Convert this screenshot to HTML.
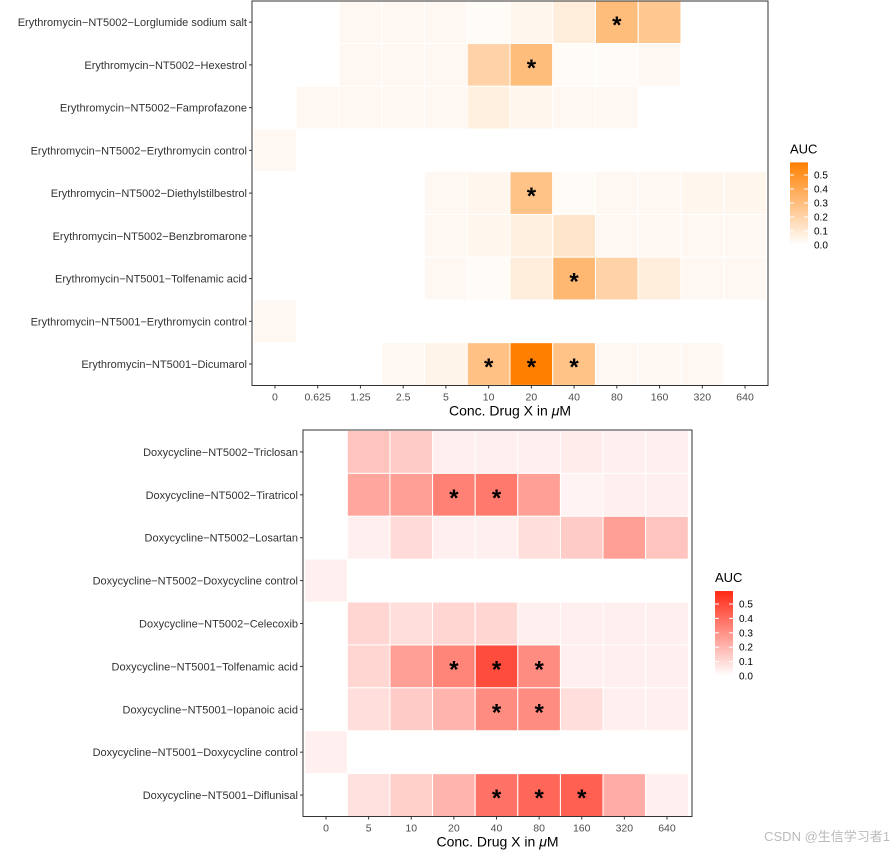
<!DOCTYPE html>
<html><head><meta charset="utf-8"><style>
html,body{margin:0;padding:0;background:#fff;width:896px;height:852px;overflow:hidden}
svg{display:block;font-family:"Liberation Sans","Noto Sans CJK SC",sans-serif}
</style></head><body>
<svg id="chart" width="896" height="852" viewBox="0 0 896 852"></svg>
<script>
const topCats = ["0","0.625","1.25","2.5","5","10","20","40","80","160","320","640"];
const topRows = ["Erythromycin\u2212NT5002\u2212Lorglumide sodium salt","Erythromycin\u2212NT5002\u2212Hexestrol","Erythromycin\u2212NT5002\u2212Famprofazone","Erythromycin\u2212NT5002\u2212Erythromycin control","Erythromycin\u2212NT5002\u2212Diethylstilbestrol","Erythromycin\u2212NT5002\u2212Benzbromarone","Erythromycin\u2212NT5001\u2212Tolfenamic acid","Erythromycin\u2212NT5001\u2212Erythromycin control","Erythromycin\u2212NT5001\u2212Dicumarol"];
const topValues = [
 [null,null,.03,.03,.03,.02,.04,.08,.3,.25,null,null],
 [null,null,.03,.03,.03,.2,.3,.02,.02,.03,null,null],
 [null,.03,.03,.03,.03,.07,.04,.03,.03,null,null,null],
 [.03,null,null,null,null,null,null,null,null,null,null,null],
 [null,null,null,null,.03,.04,.27,.02,.03,.03,.04,.04],
 [null,null,null,null,.03,.04,.07,.12,.03,.03,.03,.03],
 [null,null,null,null,.03,.02,.08,.32,.2,.08,.03,.03],
 [.03,null,null,null,null,null,null,null,null,null,null,null],
 [null,null,null,.03,.05,.28,.58,.27,.03,.03,.03,null]];
const topStars = [[8],[6],[],[],[6],[],[7],[],[5,6,7]];
const botCats = ["0","5","10","20","40","80","160","320","640"];
const botRows = ["Doxycycline\u2212NT5002\u2212Triclosan","Doxycycline\u2212NT5002\u2212Tiratricol","Doxycycline\u2212NT5002\u2212Losartan","Doxycycline\u2212NT5002\u2212Doxycycline control","Doxycycline\u2212NT5002\u2212Celecoxib","Doxycycline\u2212NT5001\u2212Tolfenamic acid","Doxycycline\u2212NT5001\u2212Iopanoic acid","Doxycycline\u2212NT5001\u2212Doxycycline control","Doxycycline\u2212NT5001\u2212Diflunisal"];
const botValues = [
 [null,.16,.14,.04,.04,.04,.05,.04,.04],
 [null,.24,.26,.34,.36,.26,.03,.04,.04],
 [null,.04,.1,.04,.04,.09,.14,.26,.16],
 [.04,null,null,null,null,null,null,null,null],
 [null,.11,.09,.11,.11,.04,.04,.04,.04],
 [null,.11,.26,.33,.48,.31,.04,.04,.04],
 [null,.09,.14,.2,.31,.31,.09,.04,.04],
 [.04,null,null,null,null,null,null,null,null],
 [null,.08,.13,.2,.38,.41,.43,.22,.04]];
const botStars = [[],[3,4],[],[],[],[3,4,5],[4,5],[],[4,5,6]];
const legendTicks = [0,0.1,0.2,0.3,0.4,0.5];

const NS="http://www.w3.org/2000/svg";
const svg=document.getElementById('chart');
function mk(tag,attrs,parent){const e=document.createElementNS(NS,tag);for(const k in attrs)e.setAttribute(k,attrs[k]);(parent||svg).appendChild(e);return e;}
function mix(c,t){return 'rgb('+c.map(v=>Math.round(255+(v-255)*t)).join(',')+')';}

function panel(cfg){
 const g=mk('g',{});
 
 
 const nC=cfg.cats.length,nR=cfg.rows.length;
 const cw=(cfg.x1-cfg.x0)/nC, rh=(cfg.y1-cfg.y0)/nR;
 const xs=i=>cfg.x0+cw*(i+0.5), ys=j=>cfg.y0+rh*(j+0.5);
 const col=v=>mix(cfg.high,Math.min(1,v/cfg.vmax));
 cfg.values.forEach((row,j)=>row.forEach((v,i)=>{
  if(v===null)return;
  const r=mk('rect',{x:xs(i)-cw/2,y:ys(j)-rh/2,width:cw,height:rh,fill:col(v),stroke:'#fff','stroke-width':1},g);
  
  
 }));
 cfg.stars.forEach((arr,j)=>arr.forEach(i=>{
  const t=mk('text',{x:xs(i),y:ys(j)+11,'text-anchor':'middle','font-size':24,'font-weight':'bold',fill:'#000'},g);
  t.textContent='*';
  
  
 }));
 mk('rect',{x:cfg.px0,y:cfg.py0,width:cfg.px1-cfg.px0,height:cfg.py1-cfg.py0,fill:'none',stroke:'#333','stroke-width':1},g);
 cfg.rows.forEach((lab,j)=>{
  mk('line',{x1:cfg.px0-3,x2:cfg.px0,y1:ys(j),y2:ys(j),stroke:'#333'},g);
  const t=mk('text',{x:cfg.px0-5,y:ys(j)+4,'text-anchor':'end','font-size':11,fill:'#333'},g);
  t.textContent=lab;
  
  
 });
 cfg.cats.forEach((lab,i)=>{
  mk('line',{x1:xs(i),x2:xs(i),y1:cfg.py1,y2:cfg.py1+3,stroke:'#333'},g);
  const t=mk('text',{x:xs(i),y:cfg.py1+15,'text-anchor':'middle','font-size':10.5,fill:'#4d4d4d'},g);
  t.textContent=lab;
  
  
 });
 const xt=mk('text',{x:(cfg.px0+cfg.px1)/2,y:cfg.py1+30,'text-anchor':'middle','font-size':14,fill:'#000'},g);
 xt.innerHTML='Conc. Drug X in <tspan font-style="italic">μ</tspan>M';
 
 
 const L=cfg.leg, ppu=L.ppu;
 const lt=mk('text',{x:L.x,y:L.y0-L.top*ppu-9,'font-size':13,fill:'#000'},g);
 lt.textContent='AUC';
 
 
 const gid='grad'+cfg.name;
 const lg=mk('linearGradient',{id:gid,x1:0,y1:1,x2:0,y2:0},mk('defs',{},g));
 mk('stop',{offset:0,'stop-color':'#fff'},lg);
 mk('stop',{offset:1,'stop-color':col(L.top)},lg);
 const bar=mk('rect',{x:L.x,y:L.y0-L.top*ppu,width:18,height:L.top*ppu,fill:'url(#'+gid+')'},g);
 
 
 legendTicks.forEach(v=>{
  const y=L.y0-v*ppu;
  mk('line',{x1:L.x,x2:L.x+4,y1:y,y2:y,stroke:'#fff'},g);
  mk('line',{x1:L.x+14,x2:L.x+18,y1:y,y2:y,stroke:'#fff'},g);
  const t=mk('text',{x:L.x+24,y:y+3.5,'font-size':10,fill:'#000'},g);
  t.textContent=v.toFixed(1);
  
  
 });
}
panel({name:'erythromycin-heatmap',cats:topCats,rows:topRows,values:topValues,stars:topStars,
 x0:253.6,x1:766.4,y0:0.8,y1:385.4,px0:252,px1:768,py0:1,py1:385.5,high:[255,127,0],vmax:0.58,
 leg:{x:790,y0:245,ppu:140,top:0.59}});
panel({name:'doxycycline-heatmap',cats:botCats,rows:botRows,values:botValues,stars:botStars,
 x0:304.7,x1:688.3,y0:430.5,y1:816.5,px0:303,px1:692,py0:430,py1:816.5,high:[255,40,20],vmax:0.58,
 leg:{x:715,y0:676,ppu:144,top:0.59}});
const wm=mk('text',{x:890,y:841,'text-anchor':'end','font-size':13,fill:'#bbb'});
wm.textContent='CSDN @生信学习者1';


</script>
</body></html>
